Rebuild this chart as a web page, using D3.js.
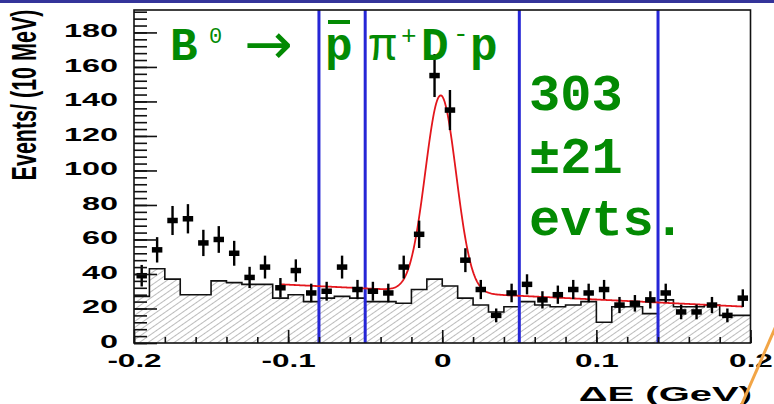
<!DOCTYPE html>
<html>
<head>
<meta charset="utf-8">
<script src="https://cdn.jsdelivr.net/npm/d3@7"></script>
<style>
  html, body { margin: 0; padding: 0; background: #fff; }
  svg { display: block; }
</style>
</head>
<body>
<svg id="chart" width="774" height="404"></svg>
<script>
// ΔE distribution for B0 → p̄ π+ D− p, 10 MeV bins from -0.2 to 0.2 GeV
const binCenters = d3.range(40).map(i => -0.195 + i * 0.01);

// data: events per bin
const dataCounts = [39, 54, 71, 72, 58, 60, 52, 38, 44, 32,
                    42, 29, 30, 44, 31, 30, 29, 44, 63, 155,
                    135, 48, 31, 16, 29, 34, 25, 28, 31, 29,
                    31, 22, 23, 25, 29, 18, 18, 22, 16, 26];

// background estimate (hatched histogram)
const bkgCounts = [27, 43, 37, 28, 28, 36, 35, 34, 34, 26,
                   28, 24, 26, 27, 26, 24, 24, 23, 31, 37,
                   33, 26, 22, 18, 21, 24, 22, 21, 22, 24,
                   12, 21, 21, 17, 25, 21, 21, 22, 16, 16];

// fit: gaussian signal on a linear background
const fitMean = -0.001, fitSigma = 0.0100, fitAmp = 114;
const fitBkg0 = 29.5, fitBkgSlope = -43;
const fitRange = [-0.105, 0.195];

// signal-region / sideband boundaries
const cutLines = [-0.08, -0.05, 0.05, 0.14];

const xTicks = [-0.2, -0.1, 0, 0.1, 0.2];
const xMinorTicks = d3.range(-0.2, 0.2001, 0.02);
const yTicks = [0, 20, 40, 60, 80, 100, 120, 140, 160, 180];
const yMinorTicks = d3.range(0, 193, 4);

const svg = d3.select("#chart");
const W = 774, H = 404;

svg.append("rect").attr("width", W).attr("height", H).attr("fill", "#fff");
// slide header strip
svg.append("rect").attr("x", 0).attr("y", 0).attr("width", W).attr("height", 3).attr("fill", "#34349a");

const x = d3.scaleLinear().domain([-0.2, 0.2]).range([134, 750.5]);
const y = d3.scaleLinear().domain([0, 193]).range([343, 10]);

// hatch pattern for the background histogram
const defs = svg.append("defs");
const pat = defs.append("pattern")
  .attr("id", "hatch").attr("patternUnits", "userSpaceOnUse")
  .attr("width", 5).attr("height", 5)
  .attr("patternTransform", "rotate(55)");
pat.append("line").attr("x1", 0).attr("y1", 0).attr("x2", 0).attr("y2", 5)
  .attr("stroke", "#7a7a7a").attr("stroke-width", 1);

// background histogram
const edges = d3.range(41).map(i => -0.2 + i * 0.01);
const stepPts = edges.map((e, i) => [e, bkgCounts[Math.min(i, 39)]]);
const area = d3.area().curve(d3.curveStepAfter)
  .x(d => x(d[0])).y0(y(0)).y1(d => y(d[1]));
const line = d3.line().curve(d3.curveStepAfter)
  .x(d => x(d[0])).y(d => y(d[1]));
svg.append("path").datum(stepPts).attr("d", area).attr("fill", "url(#hatch)");
svg.append("path").datum(stepPts).attr("d", line)
  .attr("fill", "none").attr("stroke", "#111").attr("stroke-width", 1.6);

// cut lines
svg.append("g").selectAll("line").data(cutLines).join("line")
  .attr("x1", d => x(d)).attr("x2", d => x(d))
  .attr("y1", y(193)).attr("y2", y(0))
  .attr("stroke", "#2626d6").attr("stroke-width", 3);

// fit curve
const fitX = d3.range(fitRange[0], fitRange[1] + 1e-9, 0.0005);
const fitFn = v => fitBkg0 + fitBkgSlope * v +
  fitAmp * Math.exp(-0.5 * ((v - fitMean) / fitSigma) ** 2);
svg.append("path").datum(fitX)
  .attr("d", d3.line().x(d => x(d)).y(d => y(fitFn(d))))
  .attr("fill", "none").attr("stroke", "#e3161c").attr("stroke-width", 1.8);

// data points with sqrt(N) errors
const pts = svg.append("g");
const halfW = 0.0034;
binCenters.forEach((c, i) => {
  const n = dataCounts[i], e = Math.sqrt(n);
  pts.append("line").attr("x1", x(c)).attr("x2", x(c))
    .attr("y1", y(n - e)).attr("y2", y(n + e))
    .attr("stroke", "#000").attr("stroke-width", 2.4);
  pts.append("line").attr("x1", x(c - halfW)).attr("x2", x(c + halfW))
    .attr("y1", y(n)).attr("y2", y(n))
    .attr("stroke", "#000").attr("stroke-width", 5.5);
});

// frame
svg.append("rect").attr("x", x(-0.2)).attr("y", y(193))
  .attr("width", x(0.2) - x(-0.2)).attr("height", y(0) - y(193))
  .attr("fill", "none").attr("stroke", "#111").attr("stroke-width", 1.6);

// axes
const labelFont = "'Liberation Sans', Arial, sans-serif";
const yAxis = svg.append("g").attr("transform", `translate(${x(-0.2)},0)`)
  .call(d3.axisRight(y).tickValues(yTicks).tickSize(23).tickFormat(d3.format("d")));
const yMinor = svg.append("g").attr("transform", `translate(${x(-0.2)},0)`)
  .call(d3.axisRight(y).tickValues(yMinorTicks).tickSize(13).tickFormat(""));
const xAxis = svg.append("g").attr("transform", `translate(0,${y(0)})`)
  .call(d3.axisTop(x).tickValues(xTicks).tickSize(13)
    .tickFormat(d => d === 0 ? "0" : d3.format(".1f")(d).replace("−", "-")));
const xMinor = svg.append("g").attr("transform", `translate(0,${y(0)})`)
  .call(d3.axisTop(x).tickValues(xMinorTicks).tickSize(6).tickFormat(""));

[yAxis, yMinor, xAxis, xMinor].forEach(g => {
  g.select(".domain").remove();
  g.selectAll(".tick line").attr("stroke", "#111").attr("stroke-width", 1.6);
});

yAxis.selectAll(".tick text")
  .attr("x", null).attr("dy", null)
  .attr("text-anchor", "end").attr("dominant-baseline", "central")
  .attr("transform", "translate(-16,-2) scale(1.8,1)")
  .attr("font-family", labelFont).attr("font-weight", "bold")
  .attr("font-size", 18).attr("fill", "#000");

xAxis.selectAll(".tick text")
  .attr("y", null).attr("dy", null)
  .attr("text-anchor", "middle")
  .attr("transform", "translate(0,23.5) scale(1.8,1)")
  .attr("font-family", labelFont).attr("font-weight", "bold")
  .attr("font-size", 17.5).attr("fill", "#000");

// axis titles
svg.append("text")
  .attr("transform", "translate(36,95) scale(1.6,1) rotate(-90)")
  .attr("text-anchor", "middle")
  .attr("font-family", labelFont).attr("font-weight", "bold")
  .attr("font-size", 21.5).attr("fill", "#000")
  .text("Events/ (10 MeV)");

svg.append("text")
  .attr("transform", "translate(752,401) scale(2.0,1)")
  .attr("text-anchor", "end")
  .attr("font-family", labelFont).attr("font-weight", "bold")
  .attr("font-size", 20).attr("fill", "#000")
  .text("ΔE (GeV)");

// decay annotation
const green = "#038a03";
const mono = "'Liberation Mono', 'Courier New', monospace";
const ann = svg.append("g").attr("fill", green).attr("font-family", mono).attr("font-weight", "bold");
ann.append("text").attr("x", 170).attr("y", 60).attr("font-size", 46).text("B");
ann.append("text").attr("x", 209).attr("y", 43).attr("font-size", 22).attr("font-weight", "normal").text("0");
ann.append("text").attr("x", 244).attr("y", 64).attr("font-size", 58)
  .attr("font-family", "'DejaVu Sans', sans-serif").attr("font-weight", "normal").text("→");
ann.append("text").attr("x", 325).attr("y", 60).attr("font-size", 46).text("p");
ann.append("rect").attr("x", 328).attr("y", 20).attr("width", 22).attr("height", 4);
ann.append("text").attr("x", 369).attr("y", 60).attr("font-size", 46).attr("font-weight", "normal").text("π");
ann.append("text").attr("x", 401).attr("y", 44).attr("font-size", 26).attr("font-weight", "normal").text("+");
ann.append("text").attr("x", 421).attr("y", 60).attr("font-size", 46).text("D");
ann.append("text").attr("x", 453).attr("y", 42).attr("font-size", 26).attr("font-weight", "normal").text("-");
ann.append("text").attr("x", 470).attr("y", 60).attr("font-size", 46).text("p");

// signal yield
const yieldLines = ["303", "±21", "evts."];
ann.append("g").selectAll("text").data(yieldLines).join("text")
  .attr("x", 529).attr("y", (d, i) => 110 + i * 62.5)
  .attr("font-size", 52).text(d => d);

// pointer stroke at the lower right
svg.append("line").attr("x1", 741).attr("y1", 406).attr("x2", 776).attr("y2", 326)
  .attr("stroke", "#f2a546").attr("stroke-width", 3);
</script>
</body>
</html>
